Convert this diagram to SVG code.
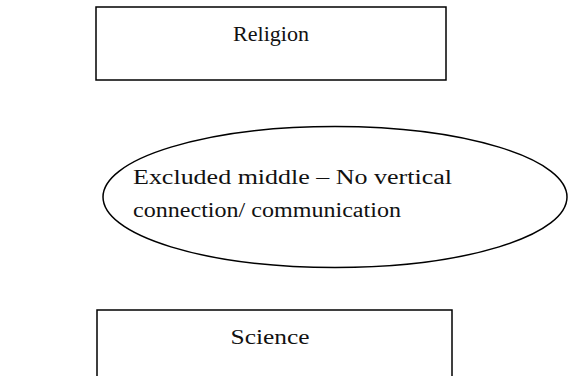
<svg xmlns="http://www.w3.org/2000/svg" width="568" height="376" viewBox="0 0 568 376">
  <style>
    .box { fill: #ffffff; stroke: #000000; stroke-width: 1.5; }
    .label { font-family: "Liberation Serif", "DejaVu Serif", serif; font-size: 20px; fill: #111111; }
  </style>
  <rect width="568" height="376" fill="#ffffff"/>
  <g id="religion">
    <rect class="box" x="96" y="7" width="350" height="73"/>
    <text class="label" x="271" y="41" text-anchor="middle" textLength="76" lengthAdjust="spacingAndGlyphs">Religion</text>
  </g>
  <g id="excluded-middle">
    <ellipse class="box" cx="335" cy="197" rx="232" ry="70.5"/>
    <text class="label" x="133" y="184" textLength="319" lengthAdjust="spacingAndGlyphs">Excluded middle – No vertical</text>
    <text class="label" x="133" y="217" textLength="268" lengthAdjust="spacingAndGlyphs">connection/ communication</text>
  </g>
  <g id="science">
    <rect class="box" x="97" y="310" width="355" height="80"/>
    <text class="label" x="270" y="344" text-anchor="middle" textLength="79" lengthAdjust="spacingAndGlyphs">Science</text>
  </g>
  <g id="connectors"></g>
</svg>
